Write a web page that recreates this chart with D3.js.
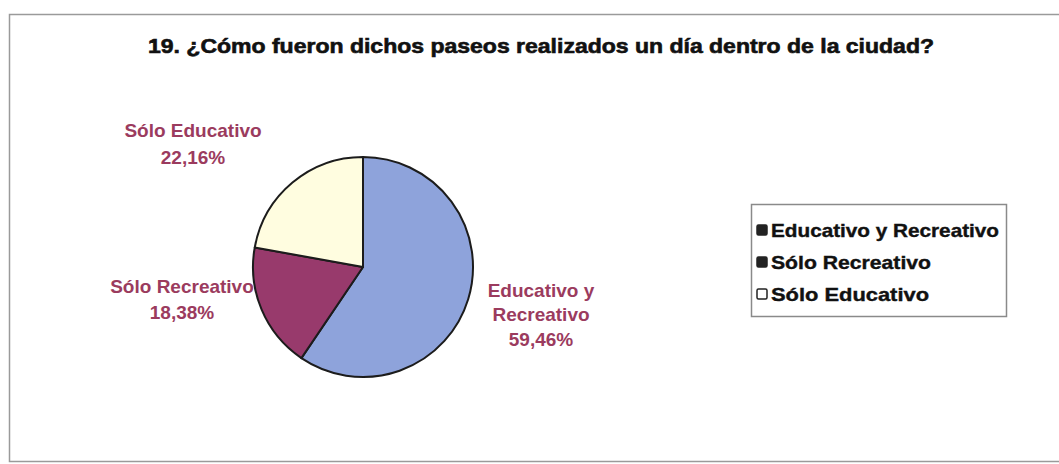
<!DOCTYPE html>
<html>
<head>
<meta charset="utf-8">
<script src="https://cdn.jsdelivr.net/npm/d3@7"></script>
<style>
  html, body { margin: 0; padding: 0; background: #fff; }
  svg { display: block; }
  text { font-family: "Liberation Sans", Arial, sans-serif; font-weight: bold; }
</style>
</head>
<body>
<svg id="chart" width="1059" height="464"></svg>
<script>
// Survey answers (percent of respondents)
const categories = ["Educativo y Recreativo", "Sólo Recreativo", "Sólo Educativo"];
const values = [59.46, 18.38, 22.16];
const sliceColors = ["#8ea3db", "#983a6c", "#fffde0"];
const legendSwatch = ["#222222", "#222222", "#ffffff"];
const title = "19. ¿Cómo fueron dichos paseos realizados un día dentro de la ciudad?";

const svg = d3.select("#chart");
const W = 1059, H = 464;

// chart frame
svg.append("rect")
  .attr("x", 9.5).attr("y", 14.5)
  .attr("width", W + 10).attr("height", 447)
  .attr("fill", "#fff").attr("stroke", "#9a9a9a").attr("stroke-width", 1.5);

svg.append("text")
  .attr("x", 541).attr("y", 53)
  .attr("text-anchor", "middle")
  .attr("font-size", 20)
  .attr("textLength", 786)
  .attr("lengthAdjust", "spacingAndGlyphs")
  .attr("fill", "#111")
  .attr("stroke", "#111").attr("stroke-width", 0.6)
  .text(title);

// pie
const cx = 363, cy = 267, r = 110;
const pie = d3.pie().sort(null).value(d => d)(values);
const arc = d3.arc().innerRadius(0).outerRadius(r);
const g = svg.append("g").attr("transform", `translate(${cx},${cy})`);
g.selectAll("path").data(pie).join("path")
  .attr("d", arc)
  .attr("fill", (d, i) => sliceColors[i])
  .attr("stroke", "#1c1c1c")
  .attr("stroke-width", 2)
  .attr("stroke-linejoin", "round");

// slice labels
const fmt = v => d3.format(".2f")(v).replace(".", ",") + "%";
const labelColor = "#9b3b5e";
const labelSpec = [
  { x: 541, y: 297, lines: ["Educativo y", "Recreativo"], dy: [0, 24, 49] },
  { x: 182, y: 293, lines: ["Sólo Recreativo"], dy: [0, 26] },
  { x: 193, y: 137, lines: ["Sólo Educativo"], dy: [0, 27] }
];
labelSpec.forEach((s, i) => {
  const t = svg.append("text")
    .attr("text-anchor", "middle")
    .attr("font-size", 19)
    .attr("fill", labelColor);
  const lines = s.lines.concat([fmt(values[i])]);
  lines.forEach((ln, k) => {
    t.append("tspan").attr("x", s.x).attr("y", s.y + s.dy[k]).text(ln);
  });
});

// legend
const lg = svg.append("g");
lg.append("rect")
  .attr("x", 751.5).attr("y", 204.5).attr("width", 255).attr("height", 112)
  .attr("fill", "#fff").attr("stroke", "#8a8a8a").attr("stroke-width", 1.5);
const ly = d3.scalePoint().domain(categories).range([230, 294]);
const legendWidth = [228, 160, 158];
categories.forEach((c, i) => {
  lg.append("rect")
    .attr("x", 757).attr("y", ly(c) - 5).attr("width", 10).attr("height", 10)
    .attr("rx", 1.5)
    .attr("fill", legendSwatch[i]).attr("stroke", "#222").attr("stroke-width", 1.5);
  lg.append("text")
    .attr("x", 771).attr("y", ly(c) + 7)
    .attr("font-size", 19)
    .attr("textLength", legendWidth[i])
    .attr("lengthAdjust", "spacingAndGlyphs")
    .attr("fill", "#111")
    .attr("stroke", "#111").attr("stroke-width", 0.4)
    .text(c);
});
</script>
</body>
</html>
